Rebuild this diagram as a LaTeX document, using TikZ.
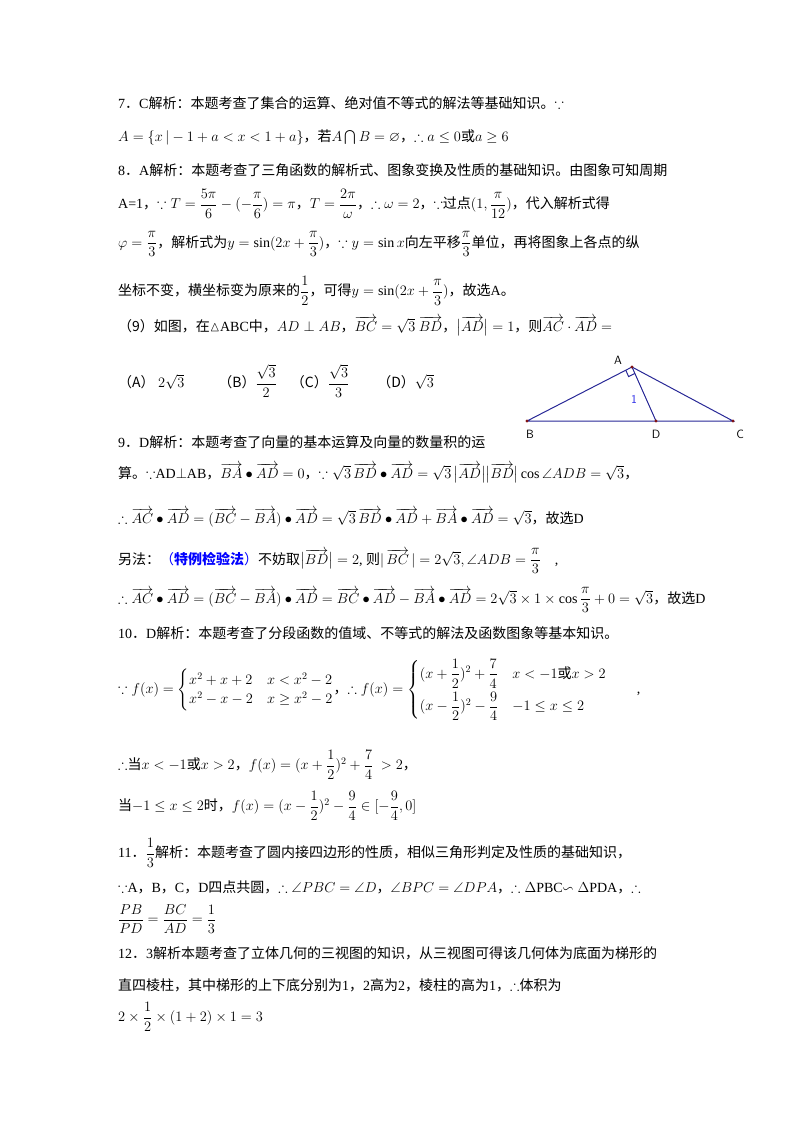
\documentclass[tikz,border=0pt]{standalone}
\usepackage{amsmath,amssymb}
\usepackage{fontspec}
\usetikzlibrary{calc}
\setmainfont{Liberation Serif}
\newfontfamily\cjk{Noto Sans CJK SC}
\newcommand{\zh}[1]{{\cjk #1}}
\newcommand{\vv}[1]{\overrightarrow{#1}}
\begin{document}
\begin{tikzpicture}[x=1pt,y=-1pt,
  ln/.style={anchor=west,inner sep=0pt,font=\fontsize{14}{16}\selectfont},
  seg/.style={draw={rgb,255:red,40;green,40;blue,150},line width=1pt},
  pt/.style={circle,fill={rgb,255:red,130;green,20;blue,20},inner sep=1.2pt},
  lab/.style={font=\sffamily\fontsize{12}{12}\selectfont}]
\useasboundingbox (0,0) rectangle (800,1132);
\node[ln] (l1) at (118,103) {7\zh{．}C\zh{解析：本题考查了集合的运算、绝对值不等式的解法等基础知识。}$\because$};
\node[ln] (l2) at (118,137) {$A=\{x\,|-1+a<x<1+a\}$\zh{，若}$A\bigcap B=\varnothing$\zh{，}$\therefore a\le 0$\zh{或}$a\ge 6$};
\node[ln] (l3) at (118,170) {8\zh{．}A\zh{解析：本题考查了三角函数的解析式、图象变换及性质的基础知识。由图象可知周期}};
\node[ln] (l4) at (118,204) {A=1\zh{，}$\because T=\dfrac{5\pi}{6}-(-\dfrac{\pi}{6})=\pi$\zh{，}$T=\dfrac{2\pi}{\omega}$\zh{，}$\therefore \omega=2$\zh{，}$\because$\zh{过点}$(1,\dfrac{\pi}{12})$\zh{，代入解析式得}};
\node[ln] (l5) at (118,244) {$\varphi=\dfrac{\pi}{3}$\zh{，解析式为}$y=\sin(2x+\dfrac{\pi}{3})$\zh{，}$\because y=\sin x$\zh{向左平移}$\dfrac{\pi}{3}$\zh{单位，再将图象上各点的纵}};
\node[ln] (l6) at (118,291) {\zh{坐标不变，横坐标变为原来的}$\dfrac{1}{2}$\zh{，可得}$y=\sin(2x+\dfrac{\pi}{3})$\zh{，故选}A\zh{。}};
\node[ln] (l7) at (118,326) {\zh{（9）如图，在}$\vartriangle$ABC\zh{中，}$AD\perp AB$\zh{，}$\vv{BC}=\sqrt3\ \vv{BD}$\zh{，}$\bigl|\vv{AD}\bigr|=1$\zh{，则}$\vv{AC}\cdot\vv{AD}=$};
\node[ln] (l8) at (118,381) {\zh{（A）}\ $2\sqrt3$\hspace{34pt}\zh{（B）}$\dfrac{\sqrt3}{2}$\hspace{14pt}\zh{（C）}$\dfrac{\sqrt3}{3}$\hspace{28pt}\zh{（D）}$\sqrt3$};
% triangle
\coordinate (A) at (632,367);
\coordinate (B) at (527,421);
\coordinate (C) at (733,421);
\coordinate (D) at (656,421);
\draw[seg] (B) -- (A) -- (C) -- (B);
\draw[seg] (A) -- (D);
\draw[seg] ($(A)!7pt!(B)$) -- ($(A)!7pt!(B)+(A)!7pt!(D)-(A)$) -- ($(A)!7pt!(D)$);
\foreach \p in {A,B,C,D} \node[pt] (p\p) at (\p) {};
\node[lab] (tA) at (618,360) {A};
\node[lab] (tB) at (530,434) {B};
\node[lab] (tD) at (656,434) {D};
\node[lab] (tC) at (740,434) {C};
\node[lab,text={rgb,255:red,40;green,40;blue,230}] (t1) at (634,399) {1};
\node[ln] (l9) at (118,442) {9\zh{．}D\zh{解析：本题考查了向量的基本运算及向量的数量积的运}};
\node[ln] (l10) at (118,473) {\zh{算。}$\because$AD$\perp$AB\zh{，}$\vv{BA}\bullet\vv{AD}=0$\zh{，}$\because\sqrt3\,\vv{BD}\bullet\vv{AD}=\sqrt3\,\bigl|\vv{AD}\bigr|\bigl|\vv{BD}\bigr|\cos\angle ADB=\sqrt3$\zh{，}};
\node[ln] (l11) at (118,518) {$\therefore \vv{AC}\bullet\vv{AD}=(\vv{BC}-\vv{BA})\bullet\vv{AD}=\sqrt3\,\vv{BD}\bullet\vv{AD}+\vv{BA}\bullet\vv{AD}=\sqrt3$\zh{，故选}D};
\node[ln] (l12) at (118,561) {\zh{另法：}{\color{blue}\zh{（\textbf{特例检验法}）}}\zh{不妨取}$\bigl|\vv{BD}\bigr|=2$, \zh{则}$|\,\vv{BC}\,|=2\sqrt3,\angle ADB=\dfrac{\pi}{3}$\quad ,};
\node[ln] (l13) at (118,600) {$\therefore \vv{AC}\bullet\vv{AD}=(\vv{BC}-\vv{BA})\bullet\vv{AD}=\vv{BC}\bullet\vv{AD}-\vv{BA}\bullet\vv{AD}=2\sqrt3\times1\times\cos\dfrac{\pi}{3}+0=\sqrt3$\zh{，故选}D};
\node[ln] (l14) at (118,633) {10\zh{．}D\zh{解析：本题考查了分段函数的值域、不等式的解法及函数图象等基本知识。}};
\node[ln] (l15) at (118,690) {$\because f(x)=\begin{cases}x^2+x+2 & x<x^2-2\\ x^2-x-2 & x\ge x^2-2\end{cases}$\zh{，}$\therefore f(x)=\begin{cases}(x+\dfrac12)^2+\dfrac74 & x<-1\text{\zh{或}}x>2\\[8pt] (x-\dfrac12)^2-\dfrac94 & -1\le x\le 2\end{cases}$\hspace{30pt},};
\node[ln] (l16) at (118,765) {$\therefore$\zh{当}$x<-1$\zh{或}$x>2$\zh{，}$f(x)=(x+\dfrac12)^2+\dfrac74\ >2$\zh{，}};
\node[ln] (l17) at (118,806) {\zh{当}$-1\le x\le 2$\zh{时，}$f(x)=(x-\dfrac12)^2-\dfrac94\in[-\dfrac94,0]$};
\node[ln] (l18) at (118,853) {11\zh{．}$\dfrac13$\zh{解析：本题考查了圆内接四边形的性质，相似三角形判定及性质的基础知识，}};
\node[ln] (l19) at (118,887) {$\because$A\zh{，}B\zh{，}C\zh{，}D\zh{四点共圆，}$\therefore\angle PBC=\angle D$\zh{，}$\angle BPC=\angle DPA$\zh{，}$\therefore\Delta$PBC$\backsim\Delta$PDA\zh{，}$\therefore$};
\node[ln] (l20) at (118,919) {$\dfrac{PB}{PD}=\dfrac{BC}{AD}=\dfrac13$};
\node[ln] (l21) at (118,953) {12\zh{．}3\zh{解析本题考查了立体几何的三视图的知识，从三视图可得该几何体为底面为梯形的}};
\node[ln] (l22) at (118,985) {\zh{直四棱柱，其中梯形的上下底分别为}1\zh{，}2\zh{高为}2\zh{，棱柱的高为}1\zh{，}$\therefore$\zh{体积为}};
\node[ln] (l23) at (118,1017) {$2\times\dfrac12\times(1+2)\times1=3$};
\end{tikzpicture}
\end{document}
